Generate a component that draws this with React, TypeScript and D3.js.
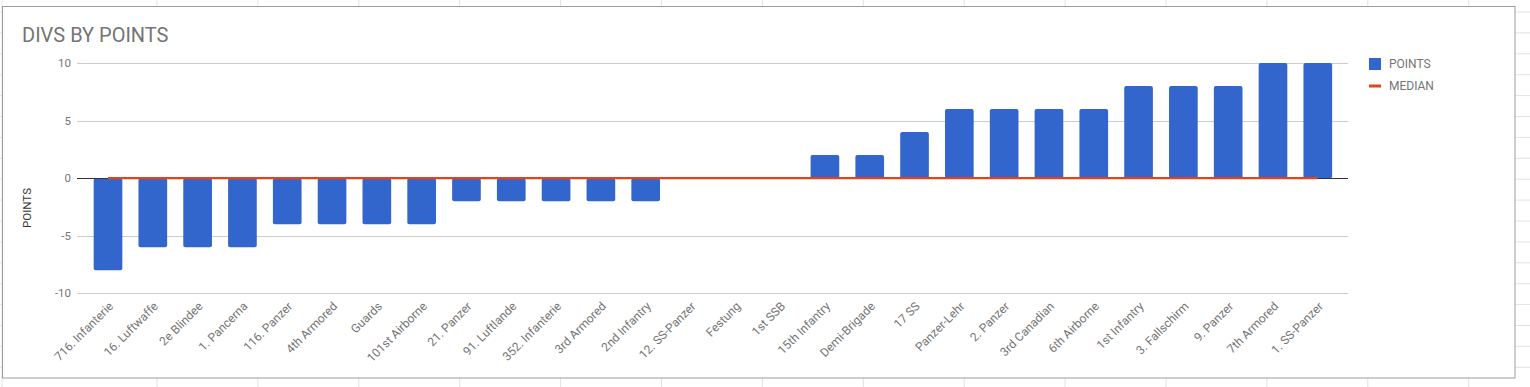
import React from "react";
import * as d3 from "d3";

const categories = [
  "716. Infanterie", "16. Luftwaffe", "2e Blindee", "1. Pancerna", "116. Panzer",
  "4th Armored", "Guards", "101st Airborne", "21. Panzer", "91. Luftlande",
  "352. Infanterie", "3rd Armored", "2nd Infantry", "12. SS-Panzer", "Festung",
  "1st SSB", "15th Infantry", "Demi-Brigade", "17 SS", "Panzer-Lehr",
  "2. Panzer", "3rd Canadian", "6th Airborne", "1st Infantry", "3. Fallschirm",
  "9. Panzer", "7th Armored", "1. SS-Panzer",
];
const points = [-8, -6, -6, -6, -4, -4, -4, -4, -2, -2, -2, -2, -2, 0, 0, 0, 2, 2, 4, 6, 6, 6, 6, 8, 8, 8, 10, 10];
const median = [0, 0, 0, 0, 0, 0, 0, 0, 0, 0, 0, 0, 0, 0, 0, 0, 0, 0, 0, 0, 0, 0, 0, 0, 0, 0, 0, 0];
const yTicks = [-10, -5, 0, 5, 10];
const legendItems = ["POINTS", "MEDIAN"];
const title = "DIVS BY POINTS";
const yTitle = "POINTS";

const W = 1530;
const H = 387;
const FONT = "Roboto, 'Noto Sans', Arial, sans-serif";
const BLUE = "#3366cc";
const RED = "#e0441c";

export default function App() {
  const x = d3.scaleBand<string>().domain(categories).range([85.6, 1340.2]).paddingInner(0.36).paddingOuter(0.18);
  const y = d3.scaleLinear().domain([-10, 10]).range([293.3, 63]);
  const cx = (c: string) => (x(c) as number) + x.bandwidth() / 2;

  const colLines = [2, ...d3.range(0, 14).map((i) => 157 + i * 100.9)];
  const rowLines = d3.range(0, 19).map((i) => 12 + i * 20.9);

  const line = d3
    .line<number>()
    .x((_, i) => cx(categories[i]))
    .y((d) => y(d));

  return (
    <svg
      width={W}
      height={H}
      style={{ position: "absolute", left: 0, top: 0, background: "#fff" }}
      fontFamily={FONT}
    >
      {/* spreadsheet grid */}
      {colLines.map((cxl, i) => (
        <line key={"c" + i} x1={cxl} x2={cxl} y1={0} y2={H} stroke="#e2e2e2" strokeWidth={1} />
      ))}
      {rowLines.map((ry, i) => (
        <line key={"r" + i} x1={0} x2={W} y1={ry} y2={ry} stroke="#e2e2e2" strokeWidth={1} />
      ))}
      {/* chart box */}
      <rect x={2.5} y={6.5} width={1512.5} height={371.5} fill="#fff" stroke="#9e9e9e" strokeWidth={1} />

      <text x={22} y={42} fontSize={20} fill="#757575">{title}</text>

      {/* gridlines */}
      {yTicks.map((t) => (
        <g key={t}>
          {t !== 0 && (
            <line x1={77} x2={1348} y1={Math.round(y(t)) + 0.5} y2={Math.round(y(t)) + 0.5} stroke="#cccccc" />
          )}
          <text x={71} y={y(t)} dy="0.35em" textAnchor="end" fontSize={11.5} fill="#757575">
            {t}
          </text>
        </g>
      ))}

      <text
        transform={`translate(31,208) rotate(-90)`}
        textAnchor="middle"
        fontSize={11.5}
        fill="#333"
      >
        {yTitle}
      </text>

      {/* bars */}
      {points.map((v, i) => {
        const c = categories[i];
        const y0 = y(0);
        const y1 = y(v);
        if (v === 0) return null;
        return (
          <rect
            key={c}
            x={x(c)}
            y={Math.min(y0, y1)}
            width={x.bandwidth()}
            height={Math.abs(y1 - y0)}
            rx={2}
            fill={BLUE}
          />
        );
      })}

      {/* baseline */}
      <line x1={77} x2={1348} y1={178.5} y2={178.5} stroke="#333" strokeWidth={1} />

      {/* median line */}
      <path d={line(median) || ""} fill="none" stroke={RED} strokeWidth={2.2} />

      {/* x labels */}
      {categories.map((c) => (
        <text
          key={c}
          transform={`translate(${cx(c) + 6},${307}) rotate(-45)`}
          textAnchor="end"
          fontSize={12}
          fill="#757575"
        >
          {c}
        </text>
      ))}

      {/* legend */}
      <rect x={1369} y={58} width={12} height={12} fill={BLUE} />
      <text x={1389} y={64} dy="0.35em" fontSize={12} fill="#757575">{legendItems[0]}</text>
      <rect x={1369} y={84.5} width={12} height={3} fill={RED} />
      <text x={1389} y={86} dy="0.35em" fontSize={12} fill="#757575">{legendItems[1]}</text>
    </svg>
  );
}
